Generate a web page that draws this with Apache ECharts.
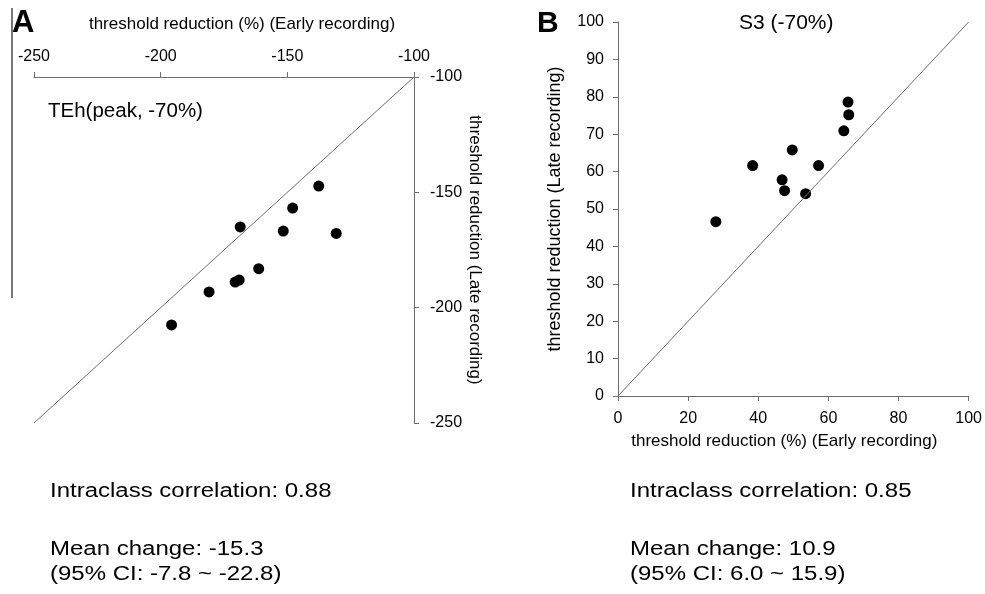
<!DOCTYPE html>
<html>
<head>
<meta charset="utf-8">
<script src="https://cdn.jsdelivr.net/npm/echarts@6/dist/echarts.min.js"></script>
<style>
  html, body { margin: 0; padding: 0; background: #fff; }
  #chart { width: 985px; height: 594px; }
</style>
</head>
<body>
<div id="chart"></div>
<script>
// panel A: TEh(peak, -70%)
const earlyA = [-137.6, -147.9, -168.6, -151.6, -130.7, -161.3, -169.0, -170.6, -180.9, -195.7]
const lateA = [-147.3, -156.8, -165.0, -166.8, -167.8, -183.1, -188.0, -188.9, -193.2, -207.5]
const rangeA = [-250, -100]

// panel B: S3 (-70%)
const earlyB = [65.6, 65.8, 64.4, 49.7, 38.4, 57.2, 46.8, 47.5, 53.5, 27.9]
const lateB = [78.6, 75.2, 70.9, 65.8, 61.6, 61.6, 57.8, 54.9, 54.1, 46.6]
const rangeB = [0, 100]

const statsA = ['Intraclass correlation: 0.88', 'Mean change: -15.3', '(95% CI: -7.8 ~ -22.8)']
const statsB = ['Intraclass correlation: 0.85', 'Mean change: 10.9', '(95% CI: 6.0 ~ 15.9)']

const FONT = '"Liberation Sans", Arial, sans-serif'
const AXIS_COLOR = '#6e6e6e'

const chart = echarts.init(document.getElementById('chart'), null, { renderer: 'canvas' })

function axisBase(extra) {
  return Object.assign({
    type: 'value',
    splitLine: { show: false },
    axisLine: { show: true, onZero: false, lineStyle: { color: AXIS_COLOR, width: 1 } },
    axisTick: { show: true, length: 5, lineStyle: { color: AXIS_COLOR } },
    nameLocation: 'middle'
  }, extra)
}

function labelStyle(margin) {
  return { color: '#000', fontSize: 16, fontFamily: FONT, margin: margin }
}

// padding is used only to nudge the name off the axis centre
function nameStyle(size, padding) {
  return { color: '#000', fontSize: size, fontFamily: FONT, padding: padding || 0 }
}

// plain text placed by its top-left corner; sx stretches it sideways
function textEl(x, y, text, size, weight, sx) {
  return {
    type: 'text',
    x: x,
    y: y,
    scaleX: sx || 1,
    style: {
      text: text,
      fill: '#000',
      verticalAlign: 'top',
      font: (weight || 'normal') + ' ' + size + 'px ' + FONT
    }
  }
}

function statsEls(x, lines) {
  return [
    textEl(x, 481, lines[0], 20, 'normal', 1.2),
    textEl(x, 539, lines[1], 20, 'normal', 1.2),
    textEl(x, 564, lines[2], 20, 'normal', 1.2)
  ]
}

chart.setOption({
  backgroundColor: '#fff',
  animation: false,
  grid: [
    { left: 34, top: 77, width: 380, height: 346 },
    { left: 618, top: 22, width: 352, height: 374 }
  ],
  xAxis: [
    axisBase({
      gridIndex: 0, position: 'top', min: rangeA[0], max: rangeA[1], interval: 50,
      name: 'threshold reduction (%) (Early recording)', nameGap: 44,
      nameTextStyle: nameStyle(17, [0, 0, 0, 36]), axisLabel: labelStyle(12)
    }),
    axisBase({
      gridIndex: 1, position: 'bottom', min: rangeB[0], max: rangeB[1], interval: 20,
      name: 'threshold reduction (%) (Early recording)', nameGap: 37,
      nameTextStyle: nameStyle(17, [0, 18, 0, 0]), axisLabel: labelStyle(15)
    })
  ],
  yAxis: [
    axisBase({
      gridIndex: 0, position: 'right', min: rangeA[0], max: rangeA[1], interval: 50,
      name: 'threshold reduction (Late recording)', nameGap: 48, nameRotate: -90,
      nameTextStyle: nameStyle(17), axisLabel: labelStyle(16)
    }),
    axisBase({
      gridIndex: 1, position: 'left', min: rangeB[0], max: rangeB[1], interval: 10,
      name: 'threshold reduction (Late recording)', nameGap: 54, nameRotate: 90,
      nameTextStyle: nameStyle(18), axisLabel: labelStyle(14)
    })
  ],
  series: [
    {
      type: 'line', xAxisIndex: 0, yAxisIndex: 0, silent: true, symbol: 'none',
      lineStyle: { color: AXIS_COLOR, width: 1 },
      data: rangeA.map(v => [v, v])
    },
    {
      type: 'scatter', xAxisIndex: 0, yAxisIndex: 0, symbolSize: 11,
      itemStyle: { color: '#000', opacity: 1 },
      data: earlyA.map((x, i) => [x, lateA[i]])
    },
    {
      type: 'line', xAxisIndex: 1, yAxisIndex: 1, silent: true, symbol: 'none',
      lineStyle: { color: AXIS_COLOR, width: 1 },
      data: rangeB.map(v => [v, v])
    },
    {
      type: 'scatter', xAxisIndex: 1, yAxisIndex: 1, symbolSize: 11,
      itemStyle: { color: '#000', opacity: 1 },
      data: earlyB.map((x, i) => [x, lateB[i]])
    }
  ],
  graphic: [
    // stray frame line at the far left of panel A
    { type: 'line', shape: { x1: 12, y1: 8, x2: 12, y2: 298 }, style: { stroke: '#777', lineWidth: 2 } },
    textEl(12, 8, 'A', 31, 'bold'),
    textEl(537, 9, 'B', 30, 'bold'),
    textEl(48, 101, 'TEh(peak, -70%)', 20.5),
    textEl(739, 13, 'S3 (-70%)', 21)
  ].concat(statsEls(50, statsA), statsEls(630, statsB))
})
</script>
</body>
</html>
